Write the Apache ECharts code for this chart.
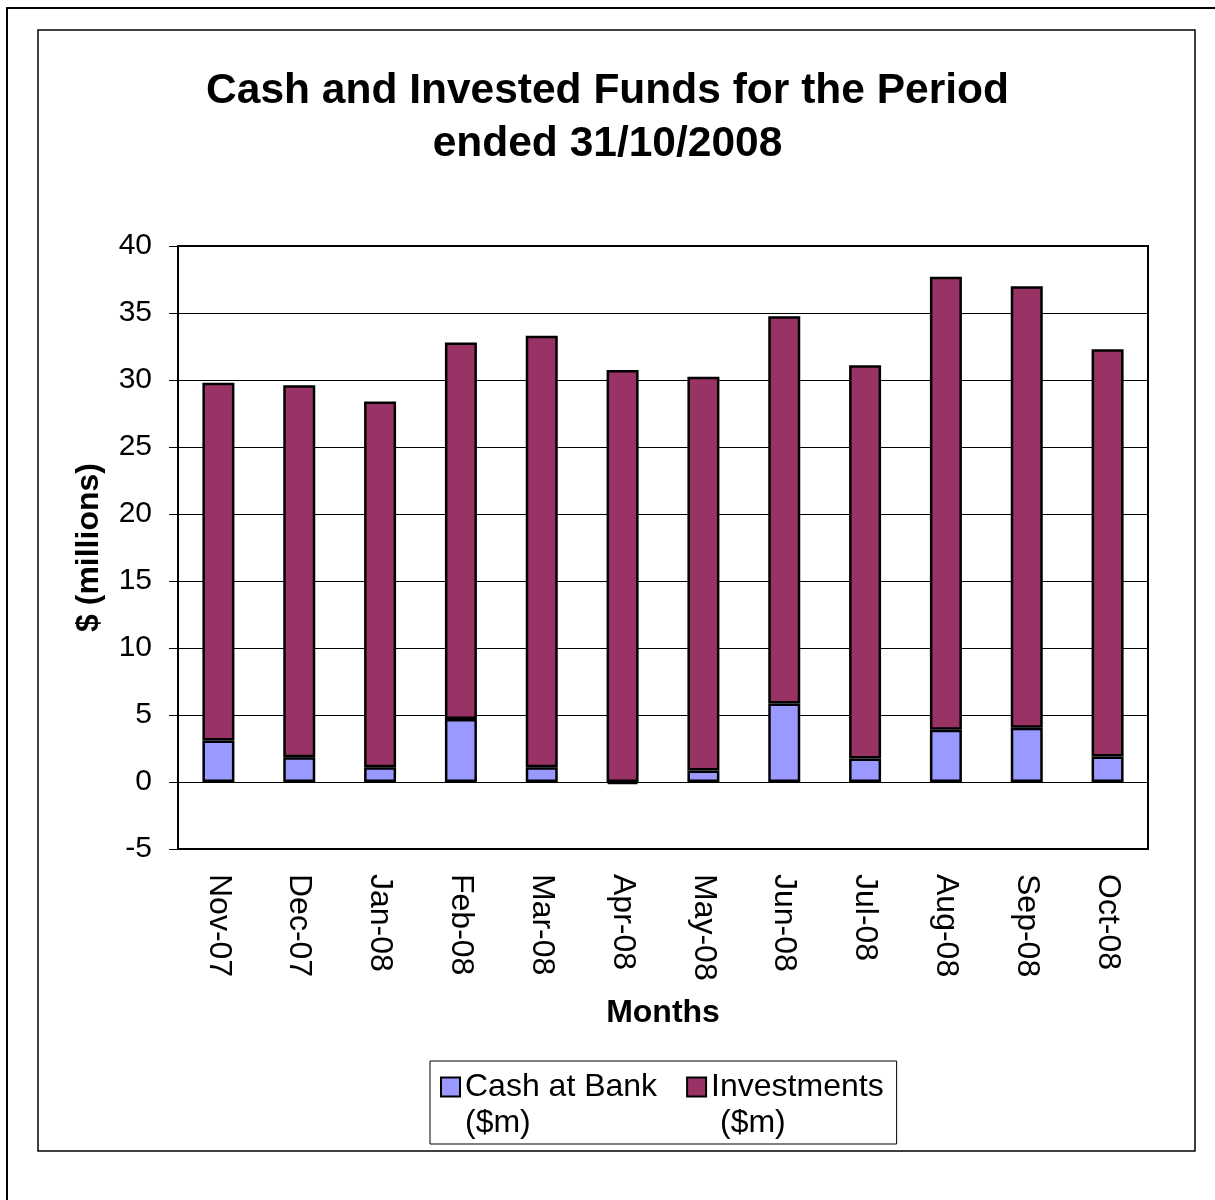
<!DOCTYPE html>
<html>
<head>
<meta charset="utf-8">
<script src="https://cdn.jsdelivr.net/npm/echarts@6/dist/echarts.min.js"></script>
<style>
  html, body { margin: 0; padding: 0; background: #fff; }
  #chart { width: 1215px; height: 1200px; }
</style>
</head>
<body>
<div id="chart"></div>
<script>
var months = ['Nov-07', 'Dec-07', 'Jan-08', 'Feb-08', 'Mar-08', 'Apr-08',
  'May-08', 'Jun-08', 'Jul-08', 'Aug-08', 'Sep-08', 'Oct-08'];
// $ millions
var cashAtBank = [3.1, 1.85, 1.1, 4.7, 1.1, -0.15, 0.85, 5.85, 1.75, 3.9, 4.05, 1.9];
var investments = [26.7, 27.75, 27.3, 28.1, 32.2, 30.75, 29.4, 28.9, 29.35, 33.8, 32.95, 30.4];
var yTicks = { min: -5, max: 40, step: 5 };
var seriesNames = ['Cash at Bank\n($m)', 'Investments\n ($m)'];

var font = 'Arial, "Liberation Sans", sans-serif';
var chart = echarts.init(document.getElementById('chart'), null, { renderer: 'canvas' });

// square in the upper part of a tall box, so it sits next to the first text line
var legendIcon = 'path://M0,0M0,72M0,8.5H19V27.5H0Z';

var option = {
  animation: false,
  backgroundColor: '#fff',
  textStyle: { fontFamily: font },
  graphic: [
    { type: 'rect', shape: { x: 7, y: 8, width: 1300, height: 1300 }, style: { fill: 'none', stroke: '#000', lineWidth: 2 } },
    { type: 'rect', shape: { x: 38, y: 30, width: 1157, height: 1121 }, style: { fill: 'none', stroke: '#000', lineWidth: 1.5 } }
  ],
  title: {
    text: 'Cash and Invested Funds for the Period\nended 31/10/2008',
    left: 'center',
    top: 60,
    textStyle: { fontFamily: font, fontSize: 42.5, fontWeight: 'bold', color: '#000', lineHeight: 53 }
  },
  legend: {
    data: seriesNames,
    left: 430,
    top: 1061,
    orient: 'horizontal',
    padding: [7, 13, 2, 10],
    itemGap: 29,
    itemWidth: 19,
    itemHeight: 72,
    icon: legendIcon,
    borderColor: '#000',
    borderWidth: 1,
    textStyle: { fontFamily: font, fontSize: 32, color: '#000', lineHeight: 36 }
  },
  grid: {
    left: 178, top: 246, right: 67, bottom: 351,
    show: true, borderColor: '#000', borderWidth: 2, backgroundColor: '#fff'
  },
  xAxis: [
    {
      type: 'category',
      data: months,
      axisLine: { onZero: true, lineStyle: { color: '#000', width: 1 } },
      axisTick: { inside: true, length: 10, interval: 0, lineStyle: { color: '#000', width: 1 } },
      axisLabel: { show: false },
      splitLine: { show: false }
    },
    {
      type: 'category',
      data: months,
      position: 'bottom',
      axisLine: { show: false, onZero: false },
      axisTick: { show: false },
      axisLabel: {
        interval: 0, rotate: -90, margin: 25,
        fontFamily: font, fontSize: 32, color: '#000'
      },
      name: 'Months',
      nameLocation: 'middle',
      nameGap: 148,
      nameTextStyle: { fontFamily: font, fontSize: 32, fontWeight: 'bold', color: '#000' }
    }
  ],
  yAxis: {
    type: 'value',
    min: yTicks.min,
    max: yTicks.max,
    interval: yTicks.step,
    axisLine: { show: true, onZero: false, lineStyle: { color: '#000', width: 2 } },
    axisTick: { show: true, length: 9, lineStyle: { color: '#000', width: 1 } },
    axisLabel: { margin: 26, fontFamily: font, fontSize: 30, color: '#000' },
    splitLine: { show: true, lineStyle: { color: '#000', width: 1 } },
    name: '$ (millions)',
    nameLocation: 'middle',
    nameGap: 73,
    nameTextStyle: { fontFamily: font, fontSize: 32, fontWeight: 'bold', color: '#000' }
  },
  series: [
    {
      name: seriesNames[0],
      type: 'bar',
      stack: 'funds',
      xAxisIndex: 0,
      barWidth: 32,
      data: cashAtBank,
      itemStyle: { color: '#9999FF', borderColor: '#000', borderWidth: 2.5 }
    },
    {
      name: seriesNames[1],
      type: 'bar',
      stack: 'funds',
      xAxisIndex: 0,
      barWidth: 32,
      data: investments,
      itemStyle: { color: '#993366', borderColor: '#000', borderWidth: 2.5 }
    }
  ]
};

chart.setOption(option);
</script>
</body>
</html>
